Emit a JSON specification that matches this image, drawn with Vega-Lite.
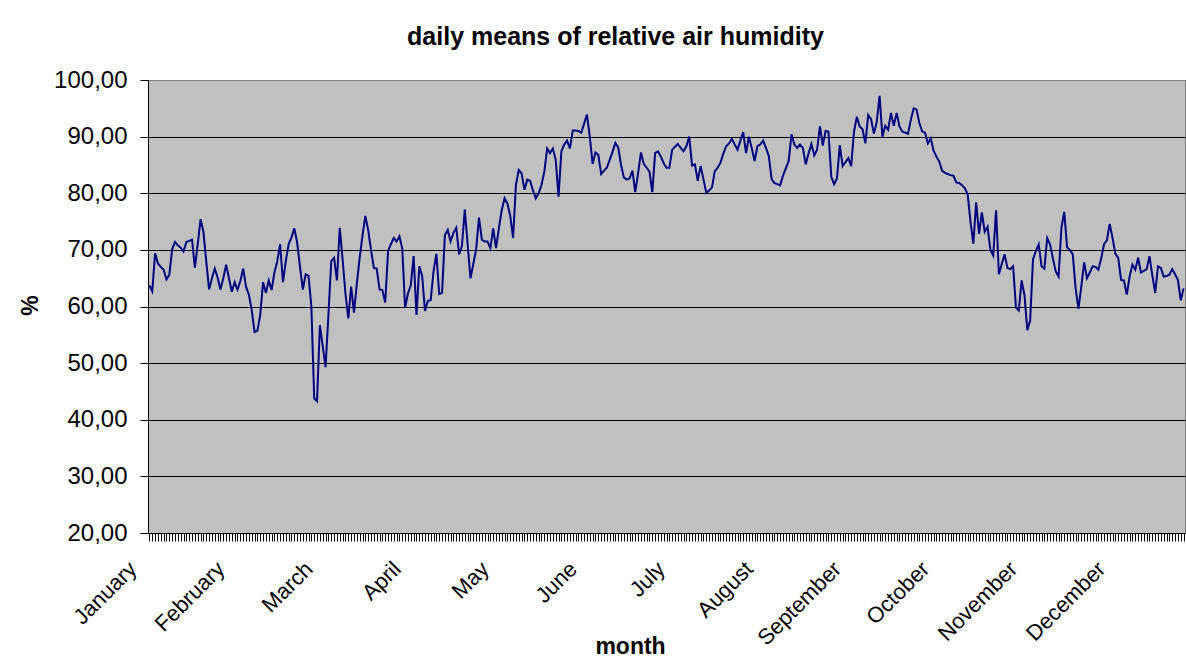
{
"$schema": "https://vega.github.io/schema/vega-lite/v6.json",
"width": 1037, "height": 453,
"autosize": {"type": "none"},
"padding": {"left": 148, "top": 80, "right": 1, "bottom": 133},
"background": "white",
"title": {"text": "daily means of relative air humidity", "font": "Liberation Sans", "fontSize": 25, "fontWeight": "bold", "color": "black", "anchor": "middle", "frame": "group", "dx": -51, "baseline": "alphabetic", "offset": -2},
"config": {
  "view": {"fill": "#C0C0C0", "stroke": "#808080", "strokeWidth": 1},
  "axis": {"labelFont": "Liberation Sans", "titleFont": "Liberation Sans", "labelColor": "black", "titleColor": "black", "domainColor": "black", "tickColor": "black", "domainWidth": 1, "tickWidth": 1}
},
"data": {"values": [
{"day":1,"h":63.7},{"day":2,"h":62.7},{"day":3,"h":69.4},{"day":4,"h":67.6},{"day":5,"h":67.0},{"day":6,"h":66.5},{"day":7,"h":64.8},{"day":8,"h":65.6},{"day":9,"h":70.1},{"day":10,"h":71.4},
{"day":11,"h":70.8},{"day":12,"h":70.4},{"day":13,"h":69.7},{"day":14,"h":71.4},{"day":15,"h":71.6},{"day":16,"h":71.8},{"day":17,"h":66.8},{"day":18,"h":71.0},{"day":19,"h":75.4},{"day":20,"h":73.2},
{"day":21,"h":68.0},{"day":22,"h":63.0},{"day":23,"h":65.0},{"day":24,"h":66.7},{"day":25,"h":65.1},{"day":26,"h":63.0},{"day":27,"h":65.0},{"day":28,"h":67.4},{"day":29,"h":65.0},{"day":30,"h":62.6},
{"day":31,"h":64.3},{"day":32,"h":63.0},{"day":33,"h":64.5},{"day":34,"h":66.7},{"day":35,"h":63.5},{"day":36,"h":62.1},{"day":37,"h":59.4},{"day":38,"h":55.5},{"day":39,"h":55.7},{"day":40,"h":58.5},
{"day":41,"h":64.3},{"day":42,"h":62.4},{"day":43,"h":64.6},{"day":44,"h":62.9},{"day":45,"h":66.0},{"day":46,"h":68.0},{"day":47,"h":71.0},{"day":48,"h":64.3},{"day":49,"h":68.0},{"day":50,"h":71.0},
{"day":51,"h":72.2},{"day":52,"h":73.8},{"day":53,"h":71.3},{"day":54,"h":67.0},{"day":55,"h":63.0},{"day":56,"h":65.7},{"day":57,"h":65.4},{"day":58,"h":60.0},{"day":59,"h":43.8},{"day":60,"h":43.3},
{"day":61,"h":56.7},{"day":62,"h":53.0},{"day":63,"h":49.3},{"day":64,"h":58.5},{"day":65,"h":68.0},{"day":66,"h":68.6},{"day":67,"h":64.6},{"day":68,"h":73.9},{"day":69,"h":68.3},{"day":70,"h":62.3},
{"day":71,"h":57.9},{"day":72,"h":63.5},{"day":73,"h":58.9},{"day":74,"h":64.0},{"day":75,"h":68.6},{"day":76,"h":72.5},{"day":77,"h":76.0},{"day":78,"h":73.5},{"day":79,"h":70.0},{"day":80,"h":66.8},
{"day":81,"h":66.7},{"day":82,"h":63.0},{"day":83,"h":62.9},{"day":84,"h":60.7},{"day":85,"h":69.8},{"day":86,"h":71.0},{"day":87,"h":72.1},{"day":88,"h":71.5},{"day":89,"h":72.4},{"day":90,"h":70.2},
{"day":91,"h":59.8},{"day":92,"h":62.3},{"day":93,"h":63.8},{"day":94,"h":68.9},{"day":95,"h":58.5},{"day":96,"h":67.1},{"day":97,"h":65.4},{"day":98,"h":59.2},{"day":99,"h":61.0},{"day":100,"h":61.1},
{"day":101,"h":66.2},{"day":102,"h":69.3},{"day":103,"h":62.2},{"day":104,"h":62.4},{"day":105,"h":72.6},{"day":106,"h":73.5},{"day":107,"h":71.5},{"day":108,"h":73.0},{"day":109,"h":73.9},{"day":110,"h":69.2},
{"day":111,"h":70.7},{"day":112,"h":77.1},{"day":113,"h":71.0},{"day":114,"h":65.0},{"day":115,"h":67.5},{"day":116,"h":70.1},{"day":117,"h":75.7},{"day":118,"h":71.8},{"day":119,"h":71.5},{"day":120,"h":71.5},
{"day":121,"h":70.3},{"day":122,"h":73.8},{"day":123,"h":70.3},{"day":124,"h":73.8},{"day":125,"h":77.0},{"day":126,"h":79.1},{"day":127,"h":78.2},{"day":128,"h":76.0},{"day":129,"h":72.1},{"day":130,"h":81.5},
{"day":131,"h":84.1},{"day":132,"h":83.5},{"day":133,"h":80.6},{"day":134,"h":82.4},{"day":135,"h":82.2},{"day":136,"h":80.5},{"day":137,"h":79.1},{"day":138,"h":80.0},{"day":139,"h":81.5},{"day":140,"h":83.8},
{"day":141,"h":87.9},{"day":142,"h":87.1},{"day":143,"h":87.9},{"day":144,"h":85.9},{"day":145,"h":79.4},{"day":146,"h":87.4},{"day":147,"h":88.6},{"day":148,"h":89.3},{"day":149,"h":87.9},{"day":150,"h":91.1},
{"day":151,"h":91.1},{"day":152,"h":91.0},{"day":153,"h":90.7},{"day":154,"h":92.3},{"day":155,"h":93.9},{"day":156,"h":90.0},{"day":157,"h":85.2},{"day":158,"h":87.2},{"day":159,"h":86.8},{"day":160,"h":83.4},
{"day":161,"h":84.0},{"day":162,"h":84.5},{"day":163,"h":85.9},{"day":164,"h":87.3},{"day":165,"h":88.9},{"day":166,"h":88.1},{"day":167,"h":85.0},{"day":168,"h":82.8},{"day":169,"h":82.4},{"day":170,"h":82.6},
{"day":171,"h":84.0},{"day":172,"h":80.2},{"day":173,"h":83.5},{"day":174,"h":87.2},{"day":175,"h":85.2},{"day":176,"h":84.5},{"day":177,"h":83.8},{"day":178,"h":80.2},{"day":179,"h":87.1},{"day":180,"h":87.4},
{"day":181,"h":86.5},{"day":182,"h":85.3},{"day":183,"h":84.5},{"day":184,"h":84.5},{"day":185,"h":87.7},{"day":186,"h":88.2},{"day":187,"h":88.7},{"day":188,"h":88.0},{"day":189,"h":87.4},{"day":190,"h":88.3},
{"day":191,"h":90.0},{"day":192,"h":84.9},{"day":193,"h":85.1},{"day":194,"h":82.2},{"day":195,"h":84.8},{"day":196,"h":82.5},{"day":197,"h":80.1},{"day":198,"h":80.5},{"day":199,"h":81.0},{"day":200,"h":83.9},
{"day":201,"h":84.5},{"day":202,"h":85.4},{"day":203,"h":87.0},{"day":204,"h":88.3},{"day":205,"h":88.8},{"day":206,"h":89.6},{"day":207,"h":88.6},{"day":208,"h":87.7},{"day":209,"h":89.3},{"day":210,"h":90.8},
{"day":211,"h":87.1},{"day":212,"h":90.0},{"day":213,"h":88.0},{"day":214,"h":85.7},{"day":215,"h":88.3},{"day":216,"h":88.6},{"day":217,"h":89.3},{"day":218,"h":88.0},{"day":219,"h":86.6},{"day":220,"h":82.5},
{"day":221,"h":81.8},{"day":222,"h":81.6},{"day":223,"h":81.4},{"day":224,"h":83.1},{"day":225,"h":84.4},{"day":226,"h":85.7},{"day":227,"h":90.4},{"day":228,"h":88.6},{"day":229,"h":88.0},{"day":230,"h":88.6},
{"day":231,"h":88.0},{"day":232,"h":85.1},{"day":233,"h":87.0},{"day":234,"h":88.7},{"day":235,"h":86.7},{"day":236,"h":87.7},{"day":237,"h":91.8},{"day":238,"h":88.4},{"day":239,"h":91.0},{"day":240,"h":90.9},
{"day":241,"h":82.9},{"day":242,"h":81.6},{"day":243,"h":82.6},{"day":244,"h":88.5},{"day":245,"h":84.8},{"day":246,"h":85.5},{"day":247,"h":86.2},{"day":248,"h":84.8},{"day":249,"h":90.9},{"day":250,"h":93.5},
{"day":251,"h":91.8},{"day":252,"h":91.3},{"day":253,"h":88.8},{"day":254,"h":93.8},{"day":255,"h":93.1},{"day":256,"h":90.5},{"day":257,"h":92.6},{"day":258,"h":97.2},{"day":259,"h":90.0},{"day":260,"h":91.9},
{"day":261,"h":91.2},{"day":262,"h":94.2},{"day":263,"h":91.9},{"day":264,"h":94.2},{"day":265,"h":91.8},{"day":266,"h":90.9},{"day":267,"h":90.7},{"day":268,"h":90.5},{"day":269,"h":93.0},{"day":270,"h":95.0},
{"day":271,"h":94.8},{"day":272,"h":92.4},{"day":273,"h":90.9},{"day":274,"h":90.7},{"day":275,"h":88.8},{"day":276,"h":89.7},{"day":277,"h":87.5},{"day":278,"h":86.5},{"day":279,"h":85.6},{"day":280,"h":84.0},
{"day":281,"h":83.6},{"day":282,"h":83.4},{"day":283,"h":83.2},{"day":284,"h":83.1},{"day":285,"h":81.9},{"day":286,"h":81.8},{"day":287,"h":81.4},{"day":288,"h":80.9},{"day":289,"h":79.8},{"day":290,"h":75.0},
{"day":291,"h":71.1},{"day":292,"h":78.4},{"day":293,"h":72.8},{"day":294,"h":76.6},{"day":295,"h":73.2},{"day":296,"h":74.1},{"day":297,"h":70.0},{"day":298,"h":69.0},{"day":299,"h":77.0},{"day":300,"h":65.7},
{"day":301,"h":67.5},{"day":302,"h":69.2},{"day":303,"h":66.8},{"day":304,"h":66.6},{"day":305,"h":67.1},{"day":306,"h":59.8},{"day":307,"h":59.3},{"day":308,"h":64.6},{"day":309,"h":62.0},{"day":310,"h":55.8},
{"day":311,"h":57.5},{"day":312,"h":68.3},{"day":313,"h":69.8},{"day":314,"h":71.0},{"day":315,"h":67.1},{"day":316,"h":66.7},{"day":317,"h":72.1},{"day":318,"h":71.0},{"day":319,"h":68.5},{"day":320,"h":66.2},
{"day":321,"h":65.3},{"day":322,"h":73.9},{"day":323,"h":76.7},{"day":324,"h":70.4},{"day":325,"h":70.0},{"day":326,"h":69.2},{"day":327,"h":63.2},{"day":328,"h":59.6},{"day":329,"h":63.5},{"day":330,"h":67.8},
{"day":331,"h":65.0},{"day":332,"h":66.0},{"day":333,"h":67.1},{"day":334,"h":67.0},{"day":335,"h":66.5},{"day":336,"h":68.5},{"day":337,"h":71.0},{"day":338,"h":71.7},{"day":339,"h":74.6},{"day":340,"h":72.1},
{"day":341,"h":69.3},{"day":342,"h":68.6},{"day":343,"h":64.7},{"day":344,"h":64.6},{"day":345,"h":62.1},{"day":346,"h":65.3},{"day":347,"h":67.4},{"day":348,"h":66.5},{"day":349,"h":68.6},{"day":350,"h":66.0},
{"day":351,"h":66.3},{"day":352,"h":66.6},{"day":353,"h":68.9},{"day":354,"h":65.5},{"day":355,"h":62.4},{"day":356,"h":67.1},{"day":357,"h":66.8},{"day":358,"h":65.3},{"day":359,"h":65.4},{"day":360,"h":65.6},
{"day":361,"h":66.6},{"day":362,"h":65.7},{"day":363,"h":64.7},{"day":364,"h":61.1},{"day":365,"h":63.2}
]},
"resolve": {"axis": {"x": "independent"}},
"layer": [
  {
    "mark": {"type": "rule", "opacity": 0},
    "encoding": {
      "x": {"field": "day", "type": "quantitative", "scale": {"domain": [0.5, 365.5], "nice": false, "zero": false},
        "axis": {"orient": "bottom", "tickCount": 366, "labels": false, "domain": false, "grid": false, "title": null, "ticks": true, "tickSize": 8}}
    }
  },
  {
    "mark": {"type": "line", "color": "#000080", "strokeWidth": 2},
    "encoding": {
      "x": {"field": "day", "type": "quantitative", "scale": {"domain": [0.5, 365.5], "nice": false, "zero": false},
        "axis": {"orient": "bottom", "values": [1, 32, 63, 94, 125, 156, 187, 218, 249, 280, 311, 342],
          "labelExpr": "['January','February','March','April','May','June','July','August','September','October','November','December'][floor((datum.value-1)/31)]",
          "ticks": false, "grid": false, "domain": true, "labelAngle": -45, "labelAlign": "right", "labelBaseline": "alphabetic",
          "labelFontSize": 22, "labelPadding": 37, "labelOffset": -12, "labelOverlap": false, "labelBound": false,
          "title": "month", "titleFontSize": 23, "titleFontWeight": "bold", "titleX": 482, "titleY": 120, "titleBaseline": "alphabetic", "titleAlign": "center", "titleAnchor": null}},
      "y": {"field": "h", "type": "quantitative", "scale": {"domain": [20, 100], "nice": false, "zero": false},
        "axis": {"values": [20, 30, 40, 50, 60, 70, 80, 90, 100],
          "labelExpr": "replace(format(datum.value, '.2f'), '.', ',')",
          "labelFontSize": 24, "labelPadding": 13, "tickSize": 8, "grid": true,
          "gridColor": {"condition": {"test": "datum.value === 100", "value": "#808080"}, "value": "black"},
          "gridOpacity": 1, "gridWidth": 1,
          "title": "%", "titleFontSize": 23, "titleFontWeight": "bold", "titleX": -118, "titleY": 225, "titleAngle": -90, "titleAlign": "center", "titleBaseline": "middle"}}
    }
  }
]
}
